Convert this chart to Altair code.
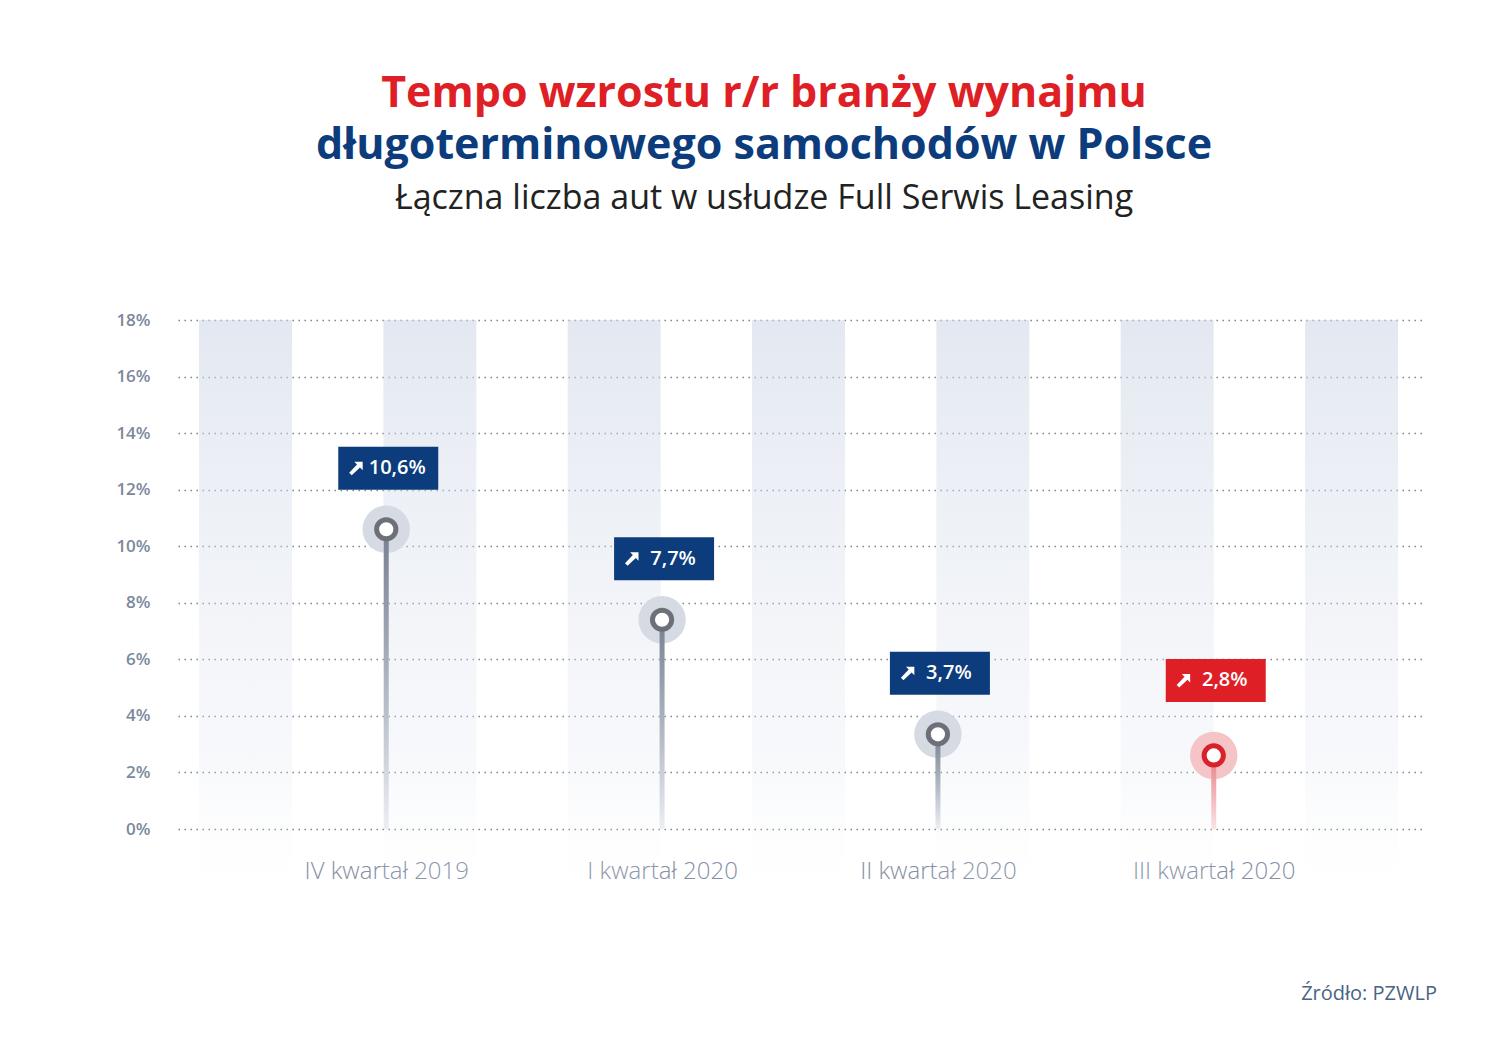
import altair as alt
import pandas as pd

# ---- data ----
categories = ["IV kwartał 2019", "I kwartał 2020", "II kwartał 2020", "III kwartał 2020"]
values = [10.6, 7.4, 3.35, 2.6]          # marker heights as drawn
labels = ["10,6%", "7,7%", "3,7%", "2,8%"]
highlight = [0, 0, 0, 1]
stripes = ["s1", "s2", "s3", "s4", "s5", "s6", "s7"]
stripe_top = 18
stripe_bottom = -2.95
y_ticks = [0, 2, 4, 6, 8, 10, 12, 14, 16, 18]

title_line1 = "Tempo wzrostu r/r branży wynajmu"
title_line2 = "długoterminowego samochodów w Polsce"
subtitle = "Łączna liczba aut w usłudze Full Serwis Leasing"
source = "Źródło: PZWLP"

RED = "#df1f26"
BLUE = "#0c3c7c"
ARROW_PATH = "M1,-1L1,0.3L0.58,-0.12L-0.7,1.1L-1.1,0.7L0.12,-0.58L-0.3,-1Z"
BOX_PATH = "M-1,-0.43L1,-0.43L1,0.43L-1,0.43Z"

df = pd.DataFrame({"cat": categories, "value": values, "label": labels, "hl": highlight})
sdf = pd.DataFrame({"s": stripes, "top": [stripe_top] * len(stripes), "bottom": [stripe_bottom] * len(stripes)})

yscale = alt.Scale(domain=[0, 18], nice=False, zero=False)
yaxis = alt.Axis(values=y_ticks, labelExpr="datum.value + '%'", grid=True,
                 gridDash=[1.5, 4.5], gridColor="#7b8494", gridWidth=1.3,
                 domain=False, ticks=False, labelPadding=28, labelFontSize=17,
                 labelColor="#7c889c", labelFont="Open Sans", labelFontWeight=600,
                 title=None)

stripe_grad = alt.LinearGradient(
    gradient="linear", x1=0, x2=0, y1=0, y2=1,
    stops=[alt.GradientStop(color="rgba(205,214,229,0.55)", offset=0),
           alt.GradientStop(color="rgba(225,230,240,0.25)", offset=0.75),
           alt.GradientStop(color="rgba(255,255,255,0)", offset=1)])

stripe_layer = alt.Chart(sdf).mark_bar(fill=stripe_grad).encode(
    x=alt.X("s:N", sort=stripes, axis=None,
            scale=alt.Scale(paddingInner=0.4955, paddingOuter=0.122, align=0.467)),
    y=alt.Y("top:Q", scale=yscale, axis=yaxis),
    y2="bottom:Q",
)

xenc = alt.X("cat:N", sort=categories,
             scale=alt.Scale(type="point", padding=0.755),
             axis=alt.Axis(title=None, domain=False, ticks=False, grid=False,
                           labelPadding=30, labelFontSize=24, labelColor="#8590a6",
                           labelFont="Open Sans", labelFontWeight=300, labelAngle=0))
yenc = alt.Y("value:Q", scale=yscale)

base = alt.Chart(df)

halo = base.mark_circle(size=2250, opacity=1).encode(
    x=xenc, y=yenc,
    color=alt.condition("datum.hl == 1", alt.value("#f5c4c7"), alt.value("#d6dae2")),
)

grey_grad = alt.LinearGradient(
    gradient="linear", x1=0, x2=0, y1=0, y2=1,
    stops=[alt.GradientStop(color="#77808f", offset=0),
           alt.GradientStop(color="#b9bfca", offset=0.6),
           alt.GradientStop(color="#eceef3", offset=1)])
red_grad = alt.LinearGradient(
    gradient="linear", x1=0, x2=0, y1=0, y2=1,
    stops=[alt.GradientStop(color="#e77f86", offset=0),
           alt.GradientStop(color="#fbe3e4", offset=1)])

stem_grey = base.transform_filter("datum.hl == 0").mark_bar(size=5, fill=grey_grad).encode(
    x=xenc, y=yenc, y2=alt.datum(0))
stem_red = base.transform_filter("datum.hl == 1").mark_bar(size=5, fill=red_grad).encode(
    x=xenc, y=yenc, y2=alt.datum(0))

ring = base.mark_point(shape="circle", size=370, filled=True, fill="white",
                       strokeWidth=5, opacity=1).encode(
    x=xenc, y=yenc,
    stroke=alt.condition("datum.hl == 1", alt.value("#d8222a"), alt.value("#6d7078")),
)


def label_layers(flt, color, off):
    b = base.transform_filter(flt)
    box = b.mark_point(shape=BOX_PATH, size=10000, filled=True, opacity=1,
                       color=color, yOffset=off, xOffset=2).encode(x=xenc, y=yenc)
    num = b.mark_text(color="white", fontSize=20, font="Open Sans", fontWeight=600,
                      dx=11, dy=off, baseline="middle", align="center").encode(
        x=xenc, y=yenc, text="label:N")
    arr = b.mark_point(shape=ARROW_PATH, size=165, filled=True, opacity=1,
                       color="white", xOffset=-30, yOffset=off).encode(x=xenc, y=yenc)
    return [box, num, arr]


inner = alt.layer(halo, stem_grey, stem_red, ring,
                  *label_layers("datum.hl == 0", BLUE, -61),
                  *label_layers("datum.hl == 1", RED, -75))

tdf = pd.DataFrame({"t1": [title_line1], "t2": [title_line2], "t3": [subtitle], "src": [source]})
tbase = alt.Chart(tdf)
t1 = tbase.mark_text(color=RED, fontSize=43, font="Open Sans", fontWeight=700,
                     align="center", baseline="middle").encode(
    text="t1:N", x=alt.value(586), y=alt.value(-226))
t2 = tbase.mark_text(color=BLUE, fontSize=43, font="Open Sans", fontWeight=700,
                     align="center", baseline="middle").encode(
    text="t2:N", x=alt.value(586), y=alt.value(-174))
t3 = tbase.mark_text(color="#222222", fontSize=34, font="Open Sans", fontWeight=400,
                     align="center", baseline="middle").encode(
    text="t3:N", x=alt.value(586), y=alt.value(-121))
src = tbase.mark_text(color="#4a6385", fontSize=20, font="Open Sans", fontWeight=400,
                      align="right", baseline="middle").encode(
    text="src:N", x=alt.value(1259), y=alt.value(674))

chart = alt.layer(stripe_layer, inner, t1, t2, t3, src).resolve_scale(x="independent").properties(
    width=1244, height=509,
    padding={"left": 170, "top": 312, "right": 70, "bottom": 200},
    autosize=alt.AutoSizeParams(type="none"),
    background="white",
).configure_view(stroke=None)

chart.save("out.html", embed_options={"renderer": "svg", "actions": False})
